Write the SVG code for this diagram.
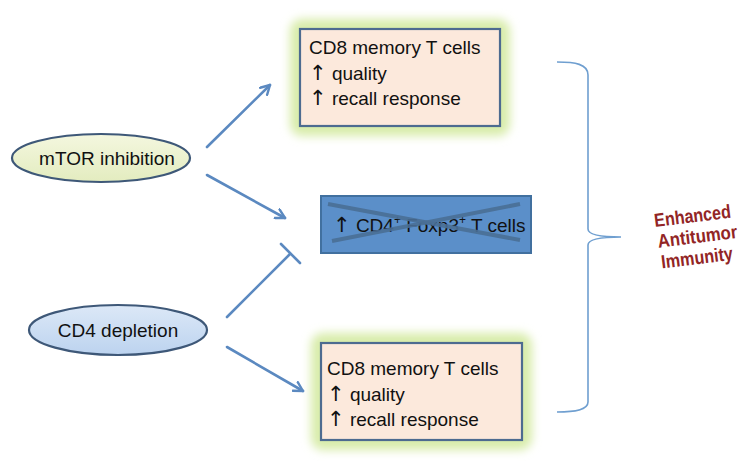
<svg xmlns="http://www.w3.org/2000/svg" width="750" height="470" viewBox="0 0 750 470">
<defs>
<style>
.t{font-family:"Liberation Sans","DejaVu Sans",sans-serif;font-size:19px;fill:#111}
.ar{font-family:"DejaVu Sans",sans-serif;font-size:21px}
.conn{stroke:#5b89c0;stroke-width:2.6;fill:none;stroke-linecap:round}
.box{fill:#fce9dc;stroke:#4d6b90;stroke-width:2.2}
.glow{fill:#d8ecaa;filter:url(#blur)}
.lbl{font-family:"Liberation Sans","DejaVu Sans",sans-serif;font-size:19px;font-weight:bold;fill:#922525}
</style>
<filter id="blur" x="-20%" y="-30%" width="140%" height="160%"><feGaussianBlur stdDeviation="5"/></filter>
<linearGradient id="gy" x1="0" y1="0" x2="0" y2="1"><stop offset="0" stop-color="#f4f7df"/><stop offset="1" stop-color="#e3ecbf"/></linearGradient>
<linearGradient id="gb" x1="0" y1="0" x2="0" y2="1"><stop offset="0" stop-color="#dce8f7"/><stop offset="1" stop-color="#bcd3ef"/></linearGradient>
<marker id="ah" viewBox="0 0 12 12" refX="10" refY="6" markerWidth="12" markerHeight="12" markerUnits="userSpaceOnUse" orient="auto">
<path d="M1,1 L10,6 L1,11" fill="none" stroke="#5b89c0" stroke-width="2.4" stroke-linecap="round" stroke-linejoin="round"/>
</marker>
</defs>
<rect width="750" height="470" fill="#fff"/>

<g id="mtor">
<ellipse cx="101" cy="158" rx="89" ry="24" fill="url(#gy)" stroke="#3e5878" stroke-width="2.2"/>
<text class="t" x="107" y="165" text-anchor="middle" font-size="20">mTOR inhibition</text>
</g>

<g id="cd4">
<ellipse cx="118" cy="330" rx="89" ry="25" fill="url(#gb)" stroke="#3e5878" stroke-width="2.2"/>
<text class="t" x="118" y="337" text-anchor="middle" font-size="20">CD4 depletion</text>
</g>

<g id="cd8top">
<rect class="glow" x="290" y="19" width="220" height="117" rx="12"/>
<rect class="box" x="300" y="29" width="200" height="97"/>
<text class="t" x="309" y="54">CD8 memory T cells</text>
<text class="t" x="309" y="80"><tspan class="ar">↑</tspan> quality</text>
<text class="t" x="309" y="105"><tspan class="ar">↑</tspan> recall response</text>
</g>

<g id="treg">
<rect x="321" y="196" width="210" height="57" fill="#5b8fc9" stroke="#41709f" stroke-width="2"/>
<text class="t" x="333" y="232" font-size="19"><tspan class="ar">↑</tspan> CD4<tspan font-size="12" dy="-8">+</tspan><tspan dy="8"> Foxp3</tspan><tspan font-size="12" dy="-8">+</tspan><tspan dy="8"> T cells</tspan></text>
<line x1="328" y1="204" x2="520" y2="240" stroke="#4a6f96" stroke-width="4" opacity="0.9"/>
<line x1="332" y1="241" x2="520" y2="204" stroke="#4a6f96" stroke-width="4" opacity="0.9"/>
</g>

<g id="cd8bot">
<rect class="glow" x="311" y="333" width="221" height="117" rx="12"/>
<rect class="box" x="321" y="343" width="201" height="97"/>
<text class="t" x="327" y="375">CD8 memory T cells</text>
<text class="t" x="327" y="401"><tspan class="ar">↑</tspan> quality</text>
<text class="t" x="327" y="426"><tspan class="ar">↑</tspan> recall response</text>
</g>

<g id="connectors">
<line class="conn" x1="207" y1="147" x2="270" y2="85" marker-end="url(#ah)"/>
<line class="conn" x1="207" y1="175" x2="285" y2="218" marker-end="url(#ah)"/>
<line class="conn" x1="227" y1="317" x2="290" y2="254"/>
<line class="conn" x1="281" y1="244" x2="300" y2="263"/>
<line class="conn" x1="227" y1="347" x2="303" y2="391" marker-end="url(#ah)"/>
<path d="M557,62 C575,62 588,64 588,75 L588,229 C588,235 600,237 621,237 C600,237 588,239 588,245 L588,402 C588,410 575,412 557,412" fill="none" stroke="#6f9fd0" stroke-width="1.6"/>
</g>

<g id="outcome" transform="rotate(-7 655 227)">
<text class="lbl" x="655" y="227" textLength="77" lengthAdjust="spacingAndGlyphs">Enhanced</text>
<text class="lbl" x="656" y="248" textLength="80" lengthAdjust="spacingAndGlyphs">Antitumor</text>
<text class="lbl" x="657" y="269" textLength="72" lengthAdjust="spacingAndGlyphs">Immunity</text>
</g>
</svg>
